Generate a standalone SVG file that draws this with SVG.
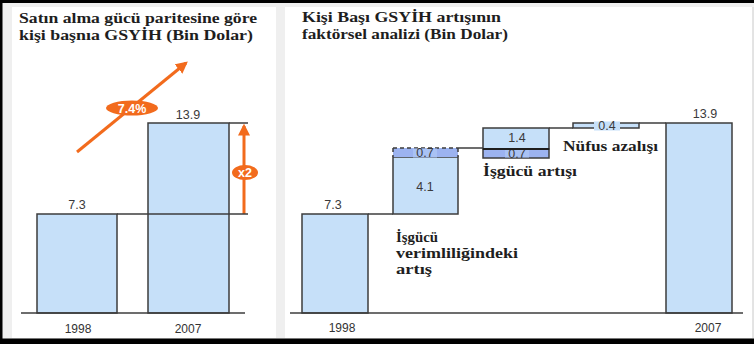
<svg xmlns="http://www.w3.org/2000/svg" width="754" height="344" viewBox="0 0 754 344">
<defs>
<style>
.bar{fill:#c6e0f9;stroke:#3c3c3c;stroke-width:1.5}
.dark{fill:#9cb3f0;stroke:#3c3c3c;stroke-width:1.5}
.ln{stroke:#3c3c3c;stroke-width:1.5;fill:none}
.num{font-family:"Liberation Sans",Arial,sans-serif;font-size:12.5px;fill:#3a3a3a;text-anchor:middle}
.yr{font-family:"Liberation Sans",Arial,sans-serif;font-size:12px;fill:#333;text-anchor:middle}
.ttl{font-family:"Liberation Serif","Times New Roman",serif;font-weight:bold;font-size:14.5px;fill:#1e1e1e}
.lbl{font-family:"Liberation Serif","Times New Roman",serif;font-weight:bold;font-size:15px;fill:#1e1e1e}
.or{stroke:#f26b1d;stroke-width:3;fill:none}
.wt{font-family:"Liberation Sans",Arial,sans-serif;font-weight:bold;font-size:12.5px;fill:#fff;text-anchor:middle}
</style>
<marker id="ah" viewBox="0 0 10 10" refX="8" refY="5" markerWidth="4" markerHeight="4" orient="auto" markerUnits="strokeWidth">
<path d="M0,0 L10,5 L0,10 z" fill="#f26b1d"/>
</marker>
</defs>
<rect x="0" y="0" width="754" height="344" fill="#efefef"/>
<rect x="12" y="7" width="264" height="331" fill="#fff"/>
<rect x="285" y="7" width="467" height="331" fill="#fff"/>
<line x1="753" y1="7" x2="753" y2="338" stroke="#d8d8d8" stroke-width="1"/>
<rect x="0" y="0" width="754" height="3" fill="#000"/>
<rect x="0" y="0" width="2.5" height="344" fill="#000"/>
<rect x="0" y="338.5" width="754" height="5.5" fill="#000"/>

<g id="left-title">
<text class="ttl" x="19" y="23" textLength="238" lengthAdjust="spacingAndGlyphs">Satın alma gücü paritesine göre</text>
<text class="ttl" x="19" y="40" textLength="234" lengthAdjust="spacingAndGlyphs">kişi başnıa GSYİH (Bin Dolar)</text>
</g>
<g id="left-bar-1998">
<rect class="bar" x="37" y="214" width="80" height="99"/>
<text class="num" x="77" y="209">7.3</text>
<text class="yr" x="78" y="333">1998</text>
</g>
<g id="left-bar-2007">
<rect class="bar" x="148" y="123" width="81" height="190"/>
<text class="num" x="188" y="119">13.9</text>
<text class="yr" x="188" y="333">2007</text>
</g>
<g id="left-growth">
<line class="or" x1="77" y1="152" x2="186" y2="63" marker-end="url(#ah)"/>
<ellipse cx="132" cy="108" rx="26" ry="7.5" fill="#f26b1d"/>
<text class="wt" x="132" y="112.5">7.4%</text>
</g>
<g id="left-x2">
<line class="or" x1="244" y1="214" x2="244" y2="126" marker-end="url(#ah)"/>
<ellipse cx="245" cy="172.5" rx="13" ry="7.5" fill="#f26b1d"/>
<text class="wt" x="245" y="177">x2</text>
</g>

<g id="right-title">
<text class="ttl" x="302" y="22" textLength="199" lengthAdjust="spacingAndGlyphs">Kişi Başı GSYİH artışının</text>
<text class="ttl" x="302" y="39" textLength="206" lengthAdjust="spacingAndGlyphs">faktörsel analizi (Bin Dolar)</text>
</g>
<g id="right-bar-1998">
<rect class="bar" x="302" y="214" width="66" height="99"/>
<text class="num" x="333" y="209">7.3</text>
<text class="yr" x="342" y="332">1998</text>
</g>
<g id="verimlilik">
<rect class="bar" x="393" y="157" width="65" height="57"/>
<text class="num" x="425" y="191">4.1</text>
<rect x="393" y="148" width="65" height="9" fill="#9cb3f0"/>
<path d="M393,148 H458 M393,148 V157 M458,148 V157" stroke="#3c3c3c" stroke-width="1.5" stroke-dasharray="4,3" fill="none"/>
<rect x="413" y="148.5" width="24" height="9" fill="#a9c2f4"/>
<text class="num" x="425" y="157" font-size="11.5">0.7</text>
<text class="lbl" x="396" y="242" textLength="42" lengthAdjust="spacingAndGlyphs">İşgücü</text>
<text class="lbl" x="396" y="258" textLength="122" lengthAdjust="spacingAndGlyphs">verimliliğindeki</text>
<text class="lbl" x="396" y="274" textLength="36" lengthAdjust="spacingAndGlyphs">artış</text>
</g>
<g id="isgucu-artisi">
<rect class="bar" x="483" y="128" width="66" height="21"/>
<rect class="dark" x="483" y="149" width="66" height="9"/>
<rect x="505" y="150" width="24" height="7.5" fill="#a9c2f4"/>
<text class="num" x="517" y="157.5" font-size="11.5">0.7</text>
<text class="num" x="517" y="142">1.4</text>
<text class="lbl" x="483" y="176" textLength="94" lengthAdjust="spacingAndGlyphs">İşgücü artışı</text>
</g>
<g id="nufus-azalisi">
<rect class="bar" x="573" y="123" width="66" height="5"/>
<rect x="594" y="121.5" width="26" height="9" fill="#c6e0f9"/>
<text class="num" x="607" y="129.5" font-size="11">0.4</text>
<text class="lbl" x="563" y="151" textLength="95" lengthAdjust="spacingAndGlyphs">Nüfus azalışı</text>
</g>
<g id="right-bar-2007">
<rect class="bar" x="666" y="123" width="66" height="190"/>
<text class="num" x="705" y="118">13.9</text>
<text class="yr" x="708" y="332">2007</text>
</g>

<g id="connectors">
<line class="ln" x1="21" y1="313" x2="245" y2="313"/>
<line class="ln" x1="117" y1="214" x2="248" y2="214"/>
<line class="ln" x1="229" y1="123" x2="248" y2="123"/>
<line class="ln" x1="290" y1="313" x2="743" y2="313"/>
<line class="ln" x1="368" y1="214" x2="393" y2="214"/>
<line class="ln" x1="458" y1="148" x2="483" y2="148"/>
<line x1="483" y1="149" x2="549" y2="149" stroke="#1e1e1e" stroke-width="2"/>
<line class="ln" x1="549" y1="128" x2="573" y2="128"/>
<line class="ln" x1="639" y1="123" x2="666" y2="123"/>
</g>
</svg>
